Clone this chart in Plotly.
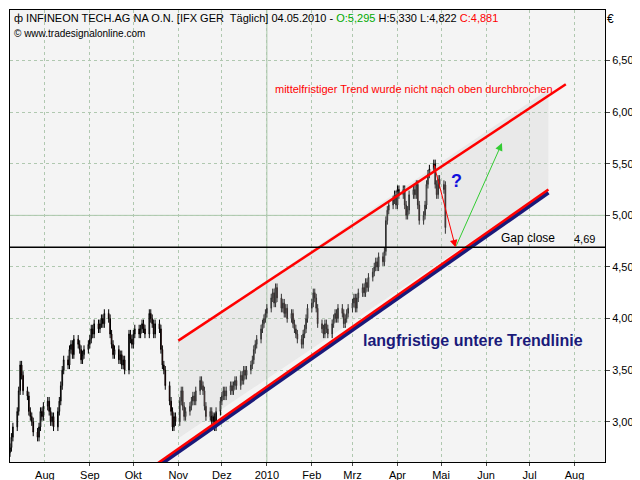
import plotly.graph_objects as go
import pandas as pd

closes = [2.75, 2.85, 2.95,
 3.1, 3.3, 3.55, 3.45, 3.3,
 3.25, 3.1, 3.05, 3.0, 2.9,
 2.85, 2.95, 3.1, 3.05, 3.15,
 3.2, 3.1, 3.0, 3.05, 2.95,
 3.1, 3.2, 3.35, 3.5, 3.6,
 3.55, 3.7, 3.75, 3.65, 3.8,
 3.75, 3.7, 3.6, 3.65, 3.7,
 3.75, 3.8, 3.9, 3.85, 3.95,
 3.9, 3.95, 4.0, 3.95, 4.05,
 4.0, 3.85, 3.75, 3.65, 3.7,
 3.6, 3.65, 3.55, 3.6, 3.5,
 3.85, 3.8, 3.75, 3.85, 3.9,
 3.85, 3.9, 3.95, 3.9, 3.85,
 4.05, 4.0, 3.95, 3.85, 3.95,
 3.9, 3.7, 3.55, 3.5, 3.35,
 3.2, 3.1, 2.95, 3.05, 3.0,
 3.2, 3.3, 3.15, 3.05, 3.1,
 3.15, 3.2, 3.25, 3.2, 3.3,
 3.4, 3.35, 3.3, 3.15, 3.05,
 3.1, 3.0, 3.05, 2.95, 3.1,
 3.2, 3.25, 3.3, 3.25, 3.3,
 3.35, 3.3, 3.35, 3.4, 3.35,
 3.45, 3.4, 3.5, 3.45, 3.5,
 3.55, 3.6, 3.7, 3.75, 3.8,
 3.9, 3.95, 4.0, 4.05, 4.1,
 4.2, 4.25, 4.15, 4.3, 4.2,
 4.1, 4.15, 4.05, 4.1, 4.0,
 4.05, 3.95, 3.9, 3.85, 3.8,
 3.75, 3.85, 3.9, 4.0, 4.1,
 4.15, 4.25, 4.2, 4.1, 3.95,
 3.9, 3.85, 3.95, 3.9, 3.85,
 3.95, 4.0, 4.05, 4.0, 4.1,
 4.05, 3.95, 4.0, 4.05, 4.1,
 4.15, 4.2, 4.1, 4.2, 4.25,
 4.3, 4.25, 4.35, 4.3, 4.4,
 4.45, 4.5, 4.55, 4.5, 4.6,
 4.55, 4.65, 4.95, 5.05, 5.1,
 5.15, 5.2, 5.1, 5.25, 5.2,
 5.25, 5.1, 5.0, 5.05, 5.2,
 5.25, 5.2, 5.3, 5.1, 4.95,
 5.0, 5.1, 5.3, 5.4, 5.45,
 5.5, 5.3, 5.2, 5.35, 5.3,
 5.25, 4.881]
dates = pd.bdate_range("2009-07-08", periods=len(closes))
opens = [2.7] + closes[:-1]
opens[-1] = 5.295
highs = [max(o, c) + 0.04 for o, c in zip(opens, closes)]
lows = [min(o, c) - 0.04 for o, c in zip(opens, closes)]
highs[-1] = 5.33
lows[-1] = 4.822

upper_x = ["2009-11-01", "2010-07-26"]; upper_y = [3.786, 6.27]
lower_x = ["2009-10-18", "2010-07-14"]; lower_y = [2.6, 5.25]
gap_level = 4.69

months = pd.date_range("2009-08-01", "2010-08-01", freq="MS")
month_labels = ["Aug", "Sep", "Okt", "Nov", "Dez", "2010", "Feb", "Mrz", "Apr", "Mai", "Jun", "Jul", "Aug"]

fig = go.Figure()
fig.add_trace(go.Scatter(x=["2009-11-01", "2010-07-14", "2010-07-14", "2009-11-01"],
                         y=[3.786, 6.22, 5.25, 2.84], fill="toself", mode="none",
                         fillcolor="rgba(200,200,200,0.25)", hoverinfo="skip", showlegend=False))
fig.add_trace(go.Candlestick(x=dates, open=opens, high=highs, low=lows, close=closes,
    increasing=dict(line=dict(color="black", width=1), fillcolor="white"),
    decreasing=dict(line=dict(color="black", width=1), fillcolor="#ff0000"),
    whiskerwidth=0, showlegend=False))
fig.add_trace(go.Scatter(x=upper_x, y=upper_y, mode="lines", line=dict(color="#ff0000", width=2.5), showlegend=False))
fig.add_trace(go.Scatter(x=lower_x, y=[v - 0.03 for v in lower_y], mode="lines", line=dict(color="#1a1a7a", width=4), showlegend=False))
fig.add_trace(go.Scatter(x=lower_x, y=lower_y, mode="lines", line=dict(color="#ff0000", width=2.5), showlegend=False))

fig.add_hline(y=gap_level, line=dict(color="black", width=1.5))
fig.add_hline(y=5.0, line=dict(color="#a8c8a8", width=1), layer="below")
fig.add_vline(x="2010-01-01", line=dict(color="#a8c8a8", width=1), layer="below")

fig.add_annotation(x="2010-05-11", y=4.69, ax="2010-04-26", ay=5.5, xref="x", yref="y", axref="x", ayref="y",
                   text="", showarrow=True, arrowhead=2, arrowsize=1.5, arrowwidth=1, arrowcolor="#ff0000", standoff=0)
fig.add_annotation(x="2010-06-12", y=5.7, ax="2010-05-11", ay=4.69, xref="x", yref="y", axref="x", ayref="y",
                   text="", showarrow=True, arrowhead=2, arrowsize=1.5, arrowwidth=1, arrowcolor="#33cc33", standoff=0)
fig.add_annotation(x="2010-05-12", y=5.33, text="<b>?</b>", showarrow=False, font=dict(size=18, color="#1010dd"))
fig.add_annotation(x=0.442, y=0.843, xref="paper", yref="paper", xanchor="left", showarrow=False,
                   text="mittelfristiger Trend wurde nicht nach oben durchbrochen", font=dict(size=11, color="#ff0000"))
fig.add_annotation(x=0.59, y=0.245, xref="paper", yref="paper", xanchor="left", showarrow=False,
                   text="<b>langfristige untere Trendlinie</b>", font=dict(size=16, color="#1a1a7a"))
fig.add_annotation(x="2010-06-10", y=gap_level, yanchor="bottom", xanchor="left", showarrow=False,
                   text="Gap close", font=dict(size=12, color="black"))
fig.add_annotation(x=0.945, y=gap_level, xref="paper", yref="y", yanchor="bottom", xanchor="left", showarrow=False,
                   text="4,69", font=dict(size=11, color="black"))
fig.add_annotation(x=0.004, y=1.0, xref="paper", yref="paper", xanchor="left", yanchor="top", showarrow=False,
                   text="ф INFINEON TECH.AG NA O.N. [IFX GER  Täglich] 04.05.2010 - <span style='color:#00aa00'>O:5,295</span> H:5,330 L:4,822 <span style='color:#ff0000'>C:4,881</span>",
                   font=dict(size=11, color="black"))
fig.add_annotation(x=0.004, y=0.965, xref="paper", yref="paper", xanchor="left", yanchor="top", showarrow=False,
                   text="© www.tradesignalonline.com", font=dict(size=10, color="black"))
fig.add_annotation(x=1.0, y=1.0, xref="paper", yref="paper", xanchor="left", yanchor="top", showarrow=False,
                   text="€", font=dict(size=12, color="black"))

grid = dict(showgrid=True, gridcolor="#b0c8b0", griddash="dot", gridwidth=1)
fig.update_layout(width=640, height=480, margin=dict(l=2, r=43, t=2, b=26),
    paper_bgcolor="white", plot_bgcolor="#f4f4f4", separators=",.",
    font=dict(family="Liberation Sans, Arial", size=11, color="black"),
    xaxis=dict(range=["2009-07-08", "2010-08-22"], tickvals=list(months), ticktext=month_labels,
               ticklabelmode="period", ticks="outside", ticklen=3, tickfont=dict(size=11),
               rangeslider=dict(visible=False),
               showline=True, linecolor="black", mirror=True, **grid),
    yaxis=dict(range=[2.61, 6.99], side="right", tickvals=[3.0, 3.5, 4.0, 4.5, 5.0, 5.5, 6.0, 6.5],
               tickformat=".3f", ticks="outside", ticklen=4, showline=True, linecolor="black", mirror=True, **grid),
)
fig.write_html("out.html")
